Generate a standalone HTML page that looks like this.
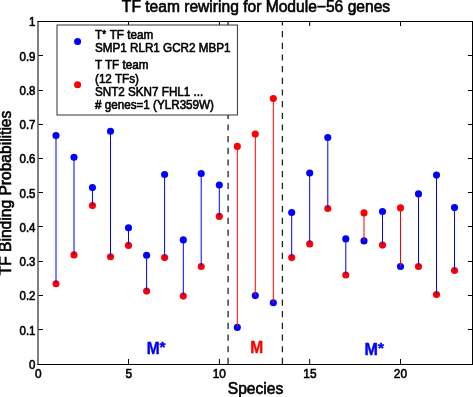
<!DOCTYPE html>
<html><head><meta charset="utf-8"><style>
html,body{margin:0;padding:0;background:#fff;}
body{width:473px;height:397px;overflow:hidden;}
svg{display:block;will-change:transform;}
text{font-family:"Liberation Sans",sans-serif;stroke:#000;stroke-width:0.45px;}
.tk{font-size:11.5px;stroke-width:0.55px;}
.lg{font-size:11.68px;stroke-width:0.55px;}
.ttl{font-size:15.6px;stroke-width:0.6px;}
.ann{font-size:15.5px;font-weight:bold;stroke-width:0.4px;}
.b{fill:#0000ff;stroke:#0000ff;}
.r{fill:#ff0000;stroke:#ff0000;}
</style></head><body>
<svg width="473" height="397" viewBox="0 0 473 397">
<rect width="473" height="397" fill="#fff"/>
<circle cx="56.00" cy="135.6" r="3.55" fill="#0000ff"/>
<circle cx="56.00" cy="283.75" r="3.55" fill="#ff0000"/>
<circle cx="74.00" cy="157.3" r="3.55" fill="#0000ff"/>
<circle cx="74.00" cy="254.9" r="3.55" fill="#ff0000"/>
<circle cx="92.45" cy="187.6" r="3.55" fill="#0000ff"/>
<circle cx="92.45" cy="205.6" r="3.55" fill="#ff0000"/>
<circle cx="110.50" cy="131.2" r="3.55" fill="#0000ff"/>
<circle cx="110.50" cy="256.7" r="3.55" fill="#ff0000"/>
<circle cx="128.50" cy="227.8" r="3.55" fill="#0000ff"/>
<circle cx="128.50" cy="245.4" r="3.55" fill="#ff0000"/>
<circle cx="146.60" cy="255.2" r="3.55" fill="#0000ff"/>
<circle cx="146.60" cy="291.1" r="3.55" fill="#ff0000"/>
<circle cx="164.60" cy="174.5" r="3.55" fill="#0000ff"/>
<circle cx="164.60" cy="257.6" r="3.55" fill="#ff0000"/>
<circle cx="183.30" cy="239.9" r="3.55" fill="#0000ff"/>
<circle cx="183.30" cy="296.1" r="3.55" fill="#ff0000"/>
<circle cx="201.20" cy="173.5" r="3.55" fill="#0000ff"/>
<circle cx="201.20" cy="266.5" r="3.55" fill="#ff0000"/>
<circle cx="219.30" cy="185.0" r="3.55" fill="#0000ff"/>
<circle cx="219.30" cy="216.4" r="3.55" fill="#ff0000"/>
<circle cx="237.30" cy="327.4" r="3.55" fill="#0000ff"/>
<circle cx="237.30" cy="146.4" r="3.55" fill="#ff0000"/>
<circle cx="255.30" cy="295.6" r="3.55" fill="#0000ff"/>
<circle cx="255.30" cy="134.1" r="3.55" fill="#ff0000"/>
<circle cx="273.30" cy="302.7" r="3.55" fill="#0000ff"/>
<circle cx="273.30" cy="98.5" r="3.55" fill="#ff0000"/>
<circle cx="291.70" cy="212.5" r="3.55" fill="#0000ff"/>
<circle cx="291.70" cy="257.6" r="3.55" fill="#ff0000"/>
<circle cx="309.70" cy="173.0" r="3.55" fill="#0000ff"/>
<circle cx="309.70" cy="243.9" r="3.55" fill="#ff0000"/>
<circle cx="327.80" cy="137.5" r="3.55" fill="#0000ff"/>
<circle cx="327.80" cy="208.5" r="3.55" fill="#ff0000"/>
<circle cx="345.80" cy="238.9" r="3.55" fill="#0000ff"/>
<circle cx="345.80" cy="275.0" r="3.55" fill="#ff0000"/>
<circle cx="364.00" cy="240.9" r="3.55" fill="#0000ff"/>
<circle cx="364.00" cy="212.9" r="3.55" fill="#ff0000"/>
<circle cx="382.50" cy="211.5" r="3.55" fill="#0000ff"/>
<circle cx="382.50" cy="245.1" r="3.55" fill="#ff0000"/>
<circle cx="400.50" cy="266.5" r="3.55" fill="#0000ff"/>
<circle cx="400.50" cy="207.9" r="3.55" fill="#ff0000"/>
<circle cx="418.50" cy="193.9" r="3.55" fill="#0000ff"/>
<circle cx="418.50" cy="266.55" r="3.55" fill="#ff0000"/>
<circle cx="436.50" cy="175.1" r="3.55" fill="#0000ff"/>
<circle cx="436.50" cy="294.5" r="3.55" fill="#ff0000"/>
<circle cx="454.50" cy="207.6" r="3.55" fill="#0000ff"/>
<circle cx="454.50" cy="270.5" r="3.55" fill="#ff0000"/>
<line x1="56.00" y1="135.6" x2="56.00" y2="283.75" stroke="#0000ff" stroke-width="1"/>
<line x1="74.00" y1="157.3" x2="74.00" y2="254.9" stroke="#0000ff" stroke-width="1"/>
<line x1="92.45" y1="187.6" x2="92.45" y2="205.6" stroke="#0000ff" stroke-width="1"/>
<line x1="110.50" y1="131.2" x2="110.50" y2="256.7" stroke="#0000ff" stroke-width="1"/>
<line x1="128.50" y1="227.8" x2="128.50" y2="245.4" stroke="#0000ff" stroke-width="1"/>
<line x1="146.60" y1="255.2" x2="146.60" y2="291.1" stroke="#0000ff" stroke-width="1"/>
<line x1="164.60" y1="174.5" x2="164.60" y2="257.6" stroke="#0000ff" stroke-width="1"/>
<line x1="183.30" y1="239.9" x2="183.30" y2="296.1" stroke="#0000ff" stroke-width="1"/>
<line x1="201.20" y1="173.5" x2="201.20" y2="266.5" stroke="#0000ff" stroke-width="1"/>
<line x1="219.30" y1="185.0" x2="219.30" y2="216.4" stroke="#0000ff" stroke-width="1"/>
<line x1="237.30" y1="327.4" x2="237.30" y2="146.4" stroke="#ff0000" stroke-width="1"/>
<line x1="255.30" y1="295.6" x2="255.30" y2="134.1" stroke="#ff0000" stroke-width="1"/>
<line x1="273.30" y1="302.7" x2="273.30" y2="98.5" stroke="#ff0000" stroke-width="1"/>
<line x1="291.70" y1="212.5" x2="291.70" y2="257.6" stroke="#0000ff" stroke-width="1"/>
<line x1="309.70" y1="173.0" x2="309.70" y2="243.9" stroke="#0000ff" stroke-width="1"/>
<line x1="327.80" y1="137.5" x2="327.80" y2="208.5" stroke="#0000ff" stroke-width="1"/>
<line x1="345.80" y1="238.9" x2="345.80" y2="275.0" stroke="#0000ff" stroke-width="1"/>
<line x1="364.00" y1="240.9" x2="364.00" y2="212.9" stroke="#ff0000" stroke-width="1"/>
<line x1="382.50" y1="211.5" x2="382.50" y2="245.1" stroke="#0000ff" stroke-width="1"/>
<line x1="400.50" y1="266.5" x2="400.50" y2="207.9" stroke="#ff0000" stroke-width="1"/>
<line x1="418.50" y1="193.9" x2="418.50" y2="266.55" stroke="#0000ff" stroke-width="1"/>
<line x1="436.50" y1="175.1" x2="436.50" y2="294.5" stroke="#0000ff" stroke-width="1"/>
<line x1="454.50" y1="207.6" x2="454.50" y2="270.5" stroke="#0000ff" stroke-width="1"/>
<line x1="228.09" y1="364" x2="228.09" y2="21" stroke="#222" stroke-width="1.3" stroke-dasharray="6.2 5.47"/>
<line x1="282.40" y1="364" x2="282.40" y2="21" stroke="#222" stroke-width="1.3" stroke-dasharray="6.2 5.47"/>
<line x1="37.5" y1="21.5" x2="473" y2="21.5" stroke="#000" stroke-width="1"/>
<line x1="37.5" y1="364.5" x2="473" y2="364.5" stroke="#000" stroke-width="1"/>
<line x1="38.0" y1="21" x2="38.0" y2="365" stroke="#000" stroke-width="1"/>
<line x1="472.5" y1="21" x2="472.5" y2="365" stroke="#000" stroke-width="1"/>
<line x1="38.5" y1="364.5" x2="43" y2="364.5" stroke="#000" stroke-width="1"/>
<line x1="468" y1="364.5" x2="472" y2="364.5" stroke="#000" stroke-width="1"/>
<text transform="translate(35.5,368.85) scale(1,1.08)" class="tk" text-anchor="end">0</text>
<line x1="38.5" y1="329.5" x2="43" y2="329.5" stroke="#000" stroke-width="1"/>
<line x1="468" y1="329.5" x2="472" y2="329.5" stroke="#000" stroke-width="1"/>
<text transform="translate(35.5,334.59) scale(1,1.08)" class="tk" text-anchor="end">0.1</text>
<line x1="38.5" y1="295.5" x2="43" y2="295.5" stroke="#000" stroke-width="1"/>
<line x1="468" y1="295.5" x2="472" y2="295.5" stroke="#000" stroke-width="1"/>
<text transform="translate(35.5,300.34) scale(1,1.08)" class="tk" text-anchor="end">0.2</text>
<line x1="38.5" y1="261.5" x2="43" y2="261.5" stroke="#000" stroke-width="1"/>
<line x1="468" y1="261.5" x2="472" y2="261.5" stroke="#000" stroke-width="1"/>
<text transform="translate(35.5,266.08) scale(1,1.08)" class="tk" text-anchor="end">0.3</text>
<line x1="38.5" y1="226.5" x2="43" y2="226.5" stroke="#000" stroke-width="1"/>
<line x1="468" y1="226.5" x2="472" y2="226.5" stroke="#000" stroke-width="1"/>
<text transform="translate(35.5,231.83) scale(1,1.08)" class="tk" text-anchor="end">0.4</text>
<line x1="38.5" y1="192.5" x2="43" y2="192.5" stroke="#000" stroke-width="1"/>
<line x1="468" y1="192.5" x2="472" y2="192.5" stroke="#000" stroke-width="1"/>
<text transform="translate(35.5,197.57) scale(1,1.08)" class="tk" text-anchor="end">0.5</text>
<line x1="38.5" y1="158.5" x2="43" y2="158.5" stroke="#000" stroke-width="1"/>
<line x1="468" y1="158.5" x2="472" y2="158.5" stroke="#000" stroke-width="1"/>
<text transform="translate(35.5,163.32) scale(1,1.08)" class="tk" text-anchor="end">0.6</text>
<line x1="38.5" y1="124.5" x2="43" y2="124.5" stroke="#000" stroke-width="1"/>
<line x1="468" y1="124.5" x2="472" y2="124.5" stroke="#000" stroke-width="1"/>
<text transform="translate(35.5,129.06) scale(1,1.08)" class="tk" text-anchor="end">0.7</text>
<line x1="38.5" y1="90.5" x2="43" y2="90.5" stroke="#000" stroke-width="1"/>
<line x1="468" y1="90.5" x2="472" y2="90.5" stroke="#000" stroke-width="1"/>
<text transform="translate(35.5,94.81) scale(1,1.08)" class="tk" text-anchor="end">0.8</text>
<line x1="38.5" y1="55.5" x2="43" y2="55.5" stroke="#000" stroke-width="1"/>
<line x1="468" y1="55.5" x2="472" y2="55.5" stroke="#000" stroke-width="1"/>
<text transform="translate(35.5,60.55) scale(1,1.08)" class="tk" text-anchor="end">0.9</text>
<line x1="38.5" y1="21.5" x2="43" y2="21.5" stroke="#000" stroke-width="1"/>
<line x1="468" y1="21.5" x2="472" y2="21.5" stroke="#000" stroke-width="1"/>
<text transform="translate(35.5,26.30) scale(1,1.08)" class="tk" text-anchor="end">1</text>
<text transform="translate(38.3,378.3) scale(1.03,1.08)" class="tk" text-anchor="middle">0</text>
<line x1="128.5" y1="359" x2="128.5" y2="364" stroke="#000" stroke-width="1"/>
<line x1="128.5" y1="22" x2="128.5" y2="26" stroke="#000" stroke-width="1"/>
<text transform="translate(128.8,378.3) scale(1.03,1.08)" class="tk" text-anchor="middle">5</text>
<line x1="219.4" y1="359" x2="219.4" y2="364" stroke="#000" stroke-width="1"/>
<line x1="219.4" y1="22" x2="219.4" y2="26" stroke="#000" stroke-width="1"/>
<text transform="translate(219.3,378.3) scale(1.03,1.08)" class="tk" text-anchor="middle">10</text>
<line x1="309.7" y1="359" x2="309.7" y2="364" stroke="#000" stroke-width="1"/>
<line x1="309.7" y1="22" x2="309.7" y2="26" stroke="#000" stroke-width="1"/>
<text transform="translate(309.9,378.3) scale(1.03,1.08)" class="tk" text-anchor="middle">15</text>
<line x1="400.5" y1="359" x2="400.5" y2="364" stroke="#000" stroke-width="1"/>
<line x1="400.5" y1="22" x2="400.5" y2="26" stroke="#000" stroke-width="1"/>
<text transform="translate(400.4,378.3) scale(1.03,1.08)" class="tk" text-anchor="middle">20</text>
<rect x="57" y="25" width="180.4" height="90" fill="#fff" stroke="#333" stroke-width="1"/>
<circle cx="77.6" cy="41.4" r="3.5" fill="#0000ff"/>
<circle cx="77.6" cy="84.8" r="3.5" fill="#ff0000"/>
<text transform="translate(95,39.2) scale(1,1.08)" class="lg">T<tspan style="font-size:10px" dy="-1.2">*</tspan><tspan dy="1.2" dx="0.7"> TF team</tspan></text>
<text transform="translate(95,52.3) scale(1,1.08)" class="lg">SMP1 RLR1 GCR2 MBP1</text>
<text transform="translate(95,69.1) scale(1,1.08)" class="lg">T TF team</text>
<text transform="translate(95,82.5) scale(1,1.08)" class="lg">(12 TFs)</text>
<text transform="translate(95,95.9) scale(1,1.08)" class="lg">SNT2 SKN7 FHL1 ...</text>
<text transform="translate(95,108.9) scale(1,1.08)" class="lg"># genes=1 (YLR359W)</text>
<text transform="translate(146.8,354) scale(1,1.1)" class="ann b">M</text>
<text transform="translate(159.6,351.6) scale(1,0.9)" class="ann b">*</text>
<text transform="translate(250.2,352.5) scale(1,1.08)" class="ann r">M</text>
<text transform="translate(364.6,355.1) scale(1.04,1.1)" class="ann b">M</text>
<text transform="translate(377.7,352.6) scale(1.04,0.9)" class="ann b">*</text>
<text x="256" y="11.9" class="ttl" text-anchor="middle">TF team rewiring for Module−56 genes</text>
<text x="255.5" y="394.3" class="ttl" text-anchor="middle">Species</text>
<text transform="translate(11.0,193) rotate(-90)" class="ttl" text-anchor="middle">TF Binding Probabilities</text>
</svg>
</body></html>
